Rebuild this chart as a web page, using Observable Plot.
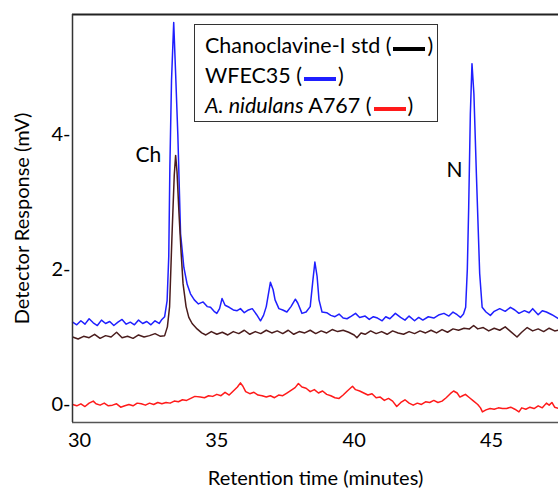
<!DOCTYPE html>
<html><head><meta charset="utf-8">
<script src="https://cdn.jsdelivr.net/npm/d3@7"></script>
<script src="https://cdn.jsdelivr.net/npm/@observablehq/plot@0.6"></script>
<style>
body{margin:0;background:#fff;}
#wrap{position:relative;width:558px;height:488px;font-family:Lato,"Open Sans",sans-serif;}
#legend{position:absolute;left:194px;top:24px;width:244px;height:98px;border:1px solid #333;background:#fff;font-size:21.5px;color:#000;box-sizing:border-box;padding:5px 0 0 10px;line-height:30px;white-space:nowrap;}
#legend .sw{display:inline-block;width:32px;height:4px;vertical-align:middle;margin:0 2px;position:relative;top:1px;}
</style></head><body>
<div id="wrap"></div>
<script>
// ---- data ----
const xTicks = [30, 35, 40, 45];
const yTicks = [0, 2, 4];
const xDomain = [29.745, 47.44];
const yDomain = [-0.267, 5.778];

const seriesNames = ["Chanoclavine-I std", "WFEC35", "A. nidulans A767"];
const seriesColors = ["#4a1c1c", "#1f1fff", "#ff1a1a"];

const blackT = [29.75,29.95,30.15,30.35,30.55,30.75,30.95,31.15,31.35,31.55,31.75,31.95,32.15,32.35,32.55,32.75,32.95,33.10,33.20,33.28,33.37,33.45,33.50,33.55,33.62,33.70,33.77,33.88,33.98,34.10,34.28,34.45,34.6,34.8,35.0,35.2,35.4,35.6,35.8,36.0,36.2,36.4,36.6,36.8,37.0,37.2,37.4,37.6,37.8,38.0,38.2,38.4,38.6,38.8,39.0,39.2,39.4,39.6,39.8,40.0,40.1,40.25,40.4,40.6,40.8,41.0,41.2,41.4,41.6,41.8,42.0,42.2,42.4,42.6,42.8,43.0,43.2,43.4,43.6,43.8,44.0,44.2,44.35,44.5,44.7,44.9,45.1,45.3,45.5,45.7,45.93,46.1,46.3,46.5,46.7,46.9,47.1,47.3,47.45];
const blackV = [1.00,0.97,1.01,0.99,1.04,0.98,1.02,1.00,1.07,0.99,1.01,0.98,1.03,1.00,1.02,1.05,1.01,1.02,1.15,1.45,2.53,3.40,3.69,3.45,2.85,2.25,1.79,1.45,1.29,1.20,1.12,1.06,1.03,1.08,1.04,1.07,1.03,1.08,1.05,1.10,1.04,1.08,1.05,1.10,1.06,1.09,1.05,1.10,1.04,1.08,1.06,1.10,1.05,1.09,1.06,1.11,1.08,1.10,1.07,1.03,0.99,1.06,1.04,1.09,1.05,1.08,1.04,1.09,1.06,1.04,1.08,1.05,1.09,1.06,1.10,1.06,1.11,1.07,1.12,1.10,1.13,1.12,1.17,1.12,1.14,1.09,1.13,1.10,1.15,1.08,1.00,1.07,1.14,1.09,1.12,1.08,1.13,1.09,1.10];

const blueT = [29.75,29.9,30.05,30.2,30.35,30.5,30.65,30.8,30.95,31.1,31.25,31.4,31.55,31.7,31.85,32.0,32.15,32.3,32.45,32.6,32.75,32.9,33.0,33.1,33.19,33.25,33.29,33.35,33.43,33.50,33.58,33.68,33.80,33.92,34.04,34.18,34.33,34.5,34.65,34.77,34.9,35.0,35.1,35.19,35.3,35.45,35.6,35.74,35.86,36.0,36.15,36.29,36.45,36.59,36.7,36.8,36.95,37.05,37.12,37.26,37.4,37.55,37.7,37.86,37.95,38.1,38.25,38.4,38.5,38.57,38.65,38.72,38.83,39.0,39.15,39.3,39.45,39.6,39.74,39.9,40.05,40.2,40.4,40.55,40.7,40.85,41.02,41.15,41.3,41.5,41.69,41.85,42.0,42.2,42.35,42.5,42.7,42.9,43.1,43.27,43.45,43.6,43.75,43.87,43.98,44.06,44.12,44.17,44.23,44.29,44.36,44.45,44.57,44.66,44.8,44.96,45.1,45.3,45.5,45.69,45.85,46.0,46.2,46.37,46.5,46.7,46.85,47.0,47.2,47.45];
const blueV = [1.22,1.18,1.24,1.19,1.27,1.21,1.17,1.25,1.20,1.23,1.17,1.22,1.26,1.19,1.22,1.18,1.25,1.20,1.23,1.18,1.24,1.20,1.26,1.30,1.54,2.20,3.51,4.80,5.66,4.90,4.00,2.53,2.03,1.78,1.64,1.55,1.49,1.52,1.45,1.44,1.38,1.35,1.42,1.57,1.47,1.44,1.40,1.39,1.42,1.36,1.40,1.42,1.33,1.24,1.32,1.45,1.81,1.70,1.55,1.42,1.40,1.37,1.45,1.56,1.50,1.35,1.37,1.45,1.85,2.11,1.90,1.55,1.37,1.36,1.32,1.30,1.34,1.28,1.27,1.31,1.35,1.29,1.31,1.26,1.30,1.28,1.24,1.30,1.27,1.35,1.29,1.25,1.31,1.24,1.29,1.25,1.30,1.28,1.33,1.35,1.31,1.37,1.33,1.29,1.34,1.44,2.00,2.92,4.30,5.05,4.60,3.42,1.94,1.44,1.37,1.32,1.38,1.42,1.38,1.44,1.40,1.35,1.39,1.36,1.42,1.33,1.39,1.37,1.33,1.27];

const redT = [29.75,29.9,30.05,30.2,30.35,30.5,30.6,30.75,30.9,31.05,31.2,31.35,31.5,31.65,31.8,31.95,32.1,32.25,32.4,32.55,32.7,32.85,33.0,33.15,33.3,33.45,33.6,33.75,33.9,34.05,34.2,34.4,34.55,34.7,34.85,35.0,35.15,35.3,35.45,35.6,35.75,35.86,35.95,36.05,36.2,36.35,36.5,36.65,36.8,36.95,37.1,37.25,37.4,37.55,37.7,37.85,37.97,38.1,38.25,38.4,38.55,38.7,38.85,39.0,39.15,39.3,39.45,39.6,39.75,39.94,40.05,40.2,40.35,40.5,40.65,40.8,40.95,41.1,41.25,41.4,41.55,41.7,41.85,42.0,42.15,42.3,42.45,42.6,42.75,42.9,43.05,43.2,43.35,43.5,43.62,43.75,43.85,43.95,44.05,44.2,44.35,44.5,44.6,44.67,44.8,44.95,45.1,45.25,45.4,45.55,45.7,45.85,46.0,46.1,46.25,46.4,46.55,46.7,46.85,47.0,47.1,47.2,47.3,47.45];
const redV = [0.00,-0.02,0.01,-0.03,0.02,0.05,0.01,-0.01,0.02,-0.02,-0.01,0.01,-0.04,-0.02,0.00,-0.02,0.02,0.01,-0.01,0.02,0.00,0.03,0.01,0.03,0.02,0.05,0.04,0.07,0.06,0.09,0.12,0.11,0.10,0.13,0.12,0.15,0.13,0.18,0.14,0.20,0.26,0.32,0.27,0.19,0.16,0.18,0.14,0.13,0.11,0.13,0.10,0.14,0.13,0.17,0.21,0.25,0.31,0.26,0.24,0.19,0.22,0.17,0.20,0.15,0.13,0.10,0.09,0.14,0.20,0.27,0.22,0.20,0.17,0.14,0.16,0.10,0.11,0.06,0.09,0.05,-0.03,0.03,0.07,0.02,-0.01,0.02,0.00,0.04,0.03,0.06,0.03,0.05,0.10,0.16,0.20,0.17,0.11,0.13,0.15,0.10,0.05,0.00,-0.05,-0.11,-0.08,-0.06,-0.07,-0.05,-0.06,-0.06,-0.04,-0.07,-0.11,-0.05,-0.07,-0.04,-0.06,-0.02,-0.05,0.02,-0.01,0.03,-0.04,-0.06];

const peakLabels = ["Ch", "N"];
const peakLabelT = [32.51, 43.65];
const peakLabelV = [3.69, 3.47];

// ---- build tables ----
const toRows = (T, V) => T.map((t, i) => ({t, v: V[i]}));
const black = toRows(blackT, blackV);
const blue = toRows(blueT, blueV);
const red = toRows(redT, redV);
const labels = peakLabels.map((s, i) => ({s, t: peakLabelT[i], v: peakLabelV[i]}));

const font = "Lato, 'Open Sans', sans-serif";

const chart = Plot.plot({
  width: 558, height: 488,
  marginLeft: 72, marginRight: 0, marginTop: 14, marginBottom: 66,
  style: {fontFamily: font, fontSize: "20px", color: "#000", background: "#fff", overflow: "visible"},
  x: {domain: xDomain, ticks: xTicks, tickSize: 0, tickPadding: 10, tickFormat: d => String(d),
      label: "Retention time (minutes)", labelAnchor: "center", labelOffset: 62, labelArrow: "none"},
  y: {domain: yDomain, ticks: yTicks, tickSize: 0, tickPadding: 2, tickFormat: d => d + "-",
      label: "Detector Response (mV)", labelAnchor: "center", labelOffset: 58, labelArrow: "none"},
  marks: [
    Plot.line(blue, {x: "t", y: "v", stroke: seriesColors[1], strokeWidth: 1.5}),
    Plot.line(black, {x: "t", y: "v", stroke: seriesColors[0], strokeWidth: 1.5}),
    Plot.line(red, {x: "t", y: "v", stroke: seriesColors[2], strokeWidth: 1.5}),
    Plot.text(labels, {x: "t", y: "v", text: "s", fontSize: 21, fill: "#000"}),
    Plot.ruleY([yDomain[1]], {stroke: "#222", strokeWidth: 2}),
    Plot.ruleY([yDomain[0]], {stroke: "#555", strokeWidth: 1.5}),
    Plot.ruleX([xDomain[0]], {stroke: "#333", strokeWidth: 1.5})
  ]
});

const wrap = document.getElementById("wrap");
wrap.appendChild(chart);

const legend = document.createElement("div");
legend.id = "legend";
legend.innerHTML = seriesNames.map((n, i) => {
  const name = i === 2 ? `<i>A. nidulans</i> A767` : n;
  const c = i === 0 ? "#000" : seriesColors[i];
  return `<div>${name} (<span class="sw" style="background:${c}"></span>)</div>`;
}).join("");
wrap.appendChild(legend);
</script>
</body></html>
